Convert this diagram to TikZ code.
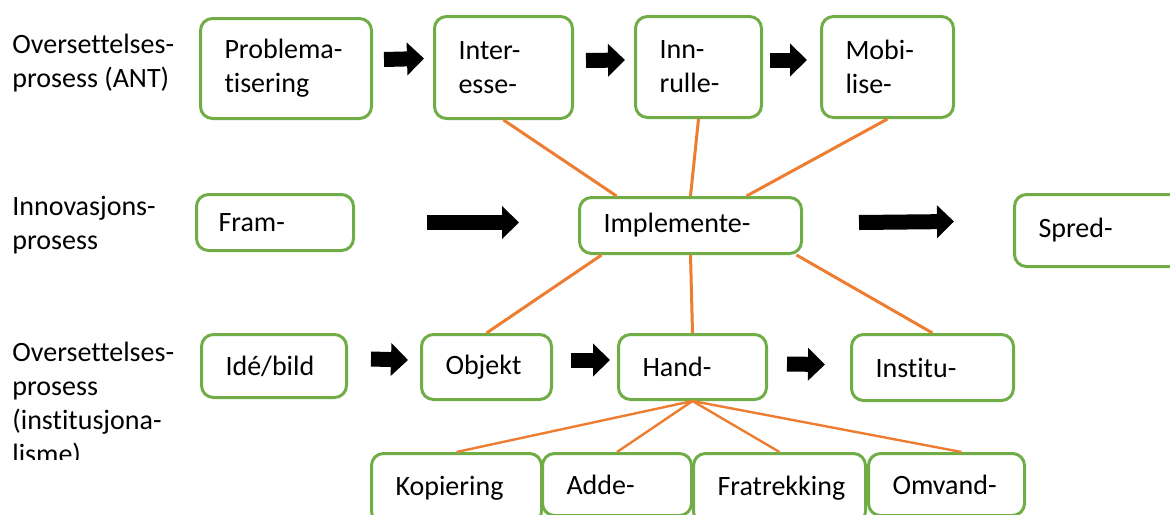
\documentclass[tikz,border=0pt]{standalone}
\usepackage{fontspec}
\setmainfont[Ligatures=NoCommon]{Carlito}
\usepackage{tikz}
\usetikzlibrary{arrows.meta, positioning}
\definecolor{boksgroenn}{HTML}{70AD47}
\definecolor{linjeoransje}{HTML}{ED7D31}
\tikzset{
    boks/.style={draw=boksgroenn, line width=1.5pt, rounded corners=6pt, anchor=north west,
        align=left, inner xsep=12pt, inner ysep=0pt},
    blokkpil/.style={line width=7.5pt, -{Triangle[length=8.5pt,width=16pt]}},
    kobling/.style={draw=linjeoransje, line width=1.5pt},
    tynnkobling/.style={draw=linjeoransje, line width=1.2pt}
}

\begin{document}
\begin{tikzpicture}[x=0.5pt, y=-0.5pt, font=\fontsize{14}{17}\selectfont]
    \clip (0,0) rectangle (1170,514);
    \tikzstyle{every node}=[text=black]
    % prosess-etiketter til venstre
    \node[anchor=west, align=left, inner sep=0pt] (etikett1) at (12,63) {Oversettelses-\\prosess (ANT)};
    \node[anchor=west, align=left, inner sep=0pt] (etikett2) at (12,225) {Innovasjons-\\prosess};
    \begin{scope}
    \clip (0,300) rectangle (190,459);
    \node[anchor=west, align=left, inner sep=0pt] (etikett3) at (12,405) {Oversettelses-\\prosess\\(institusjona-\\lisme)};
    \end{scope}
    % ANT
    \node[boks, text width=61.5pt, minimum height=50pt] (prob) at (199,17) {Problema-\\tisering};
    \node[boks, text width=45pt, minimum height=51pt] (inter) at (433,15) {Inter-\\esse-};
    \node[boks, text width=39pt, minimum height=50.5pt] (innr) at (634,15) {Inn-\\rulle-};
    \node[boks, text width=42pt, minimum height=50.5pt] (mobi) at (820,15) {Mobi-\\lise-};
    % innovasjon
    \node[boks, text width=56.5pt, minimum height=28pt, inner xsep=11pt] (fram) at (195,193) {Fram-};
    \node[boks, text width=87pt, minimum height=28pt] (impl) at (578,196) {Implemente-};
    \node[boks, text width=61pt, minimum height=36pt] (spred) at (1013,193) {Spred-};
    % institusjonalisme
    \node[boks, text width=48.5pt, minimum height=31.5pt] (ide) at (200,333) {Idé/bild};
    \node[boks, text width=41pt, minimum height=32.5pt] (objekt) at (420,333) {Objekt};
    \node[boks, text width=50pt, minimum height=32.5pt] (hand) at (617,333) {Hand-};
    \node[boks, text width=57pt, minimum height=33pt] (inst) at (850,333) {Institu-};
    \node[boks, text width=61pt, minimum height=35pt] (kop) at (370,452) {Kopiering};
    \node[boks, text width=50.5pt, minimum height=31pt] (adde) at (541,452) {Adde-};
    \node[boks, text width=62pt, minimum height=35pt] (fra) at (692,452) {Fratrekking};
    \node[boks, text width=54pt, minimum height=31pt] (omv) at (867,452) {Omvand-};

    % blokkpiler
    \draw[blokkpil] ([shift={(5.5pt,4.5pt)}]prob.east) -- ([shift={(-4.5pt,4.5pt)}]inter.west);
    \draw[blokkpil] ([shift={(6pt,3.5pt)}]inter.east) -- ([shift={(-4.5pt,3.5pt)}]innr.west);
    \draw[blokkpil] ([shift={(3.5pt,3.5pt)}]innr.east) -- ([shift={(-6.5pt,3.5pt)}]mobi.west);
    \draw[blokkpil] ([shift={(36pt,0pt)}]fram.east) -- ([shift={(-29.5pt,1.5pt)}]impl.west);
    \draw[blokkpil] ([shift={(28pt,1.5pt)}]impl.east) -- ([shift={(-29.5pt,4.5pt)}]spred.west);
    \draw[blokkpil] ([shift={(11.5pt,3.5pt)}]ide.east) -- ([shift={(-6pt,3.5pt)}]objekt.west);
    \draw[blokkpil] ([shift={(9pt,3.5pt)}]objekt.east) -- ([shift={(-3.5pt,3.5pt)}]hand.west);
    \draw[blokkpil] ([shift={(9.5pt,1.5pt)}]hand.east) -- ([shift={(-12.5pt,1.5pt)}]inst.west);

    % koblinger til implementering
    \draw[kobling] (inter.south) -- ([xshift=-37pt]impl.north);
    \draw[kobling] (innr.south) -- (impl.north);
    \draw[kobling] (mobi.south) -- ([xshift=28pt]impl.north);
    \draw[kobling] ([xshift=-44.5pt]impl.south) -- (objekt.north);
    \draw[kobling] (impl.south) -- (hand.north);
    \draw[kobling] ([xshift=53pt]impl.south) -- (inst.north);
    % koblinger fra handling
    \draw[tynnkobling] (hand.south) -- (kop.north);
    \draw[tynnkobling] (hand.south) -- (adde.north);
    \draw[tynnkobling] (hand.south) -- (fra.north);
    \draw[tynnkobling] (hand.south) -- ([xshift=7.5pt]omv.north);
\end{tikzpicture}
\end{document}
